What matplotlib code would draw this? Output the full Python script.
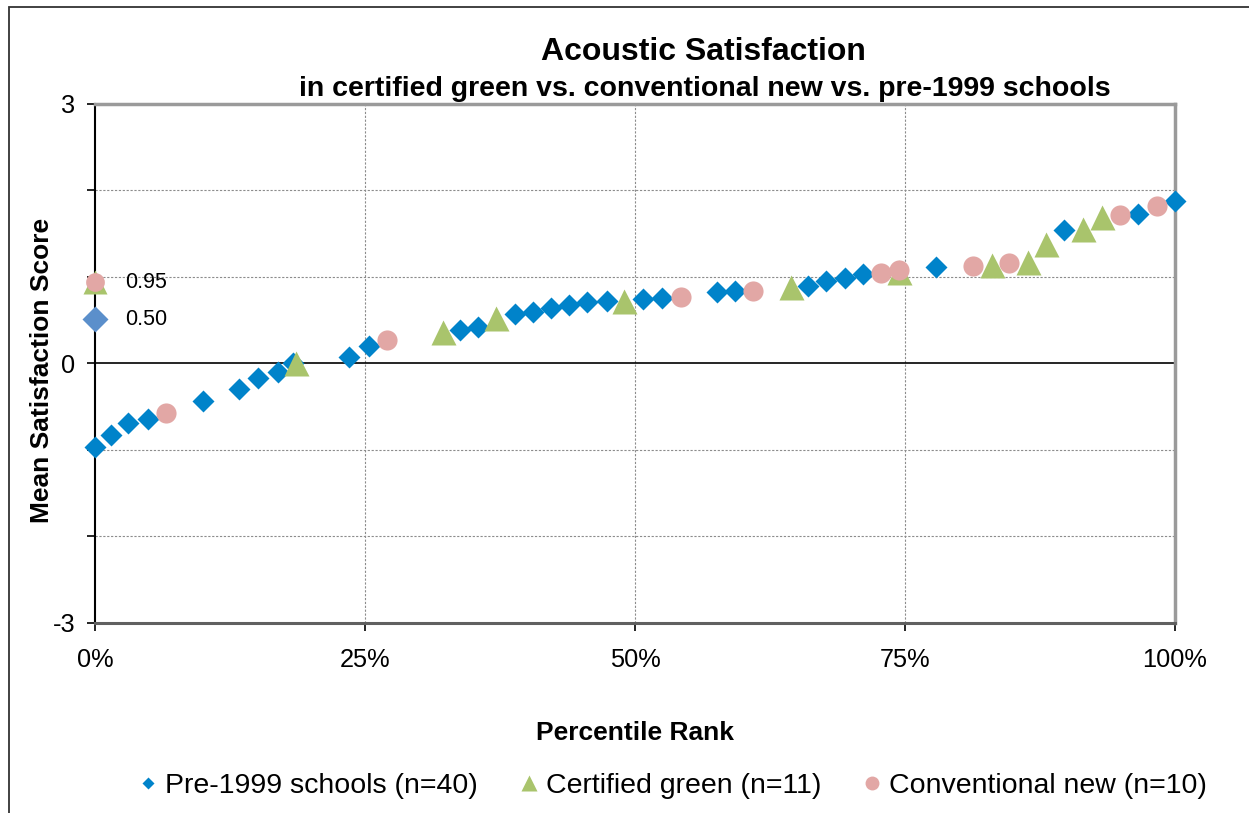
import matplotlib.pyplot as plt
from matplotlib.patches import Rectangle
from matplotlib.lines import Line2D

plt.rcParams['font.family'] = ['Liberation Sans', 'DejaVu Sans']

# percentile rank (%) and mean satisfaction score
pre_x = [0.0, 1.5, 3.1, 4.9, 10.0, 13.3, 15.1, 16.9, 18.3, 23.5, 25.4, 33.8, 35.5,
         38.9, 40.6, 42.2, 43.9, 45.6, 47.4, 50.7, 52.5, 57.6, 59.3, 66.0, 67.7,
         69.4, 71.1, 77.9, 89.7, 96.6, 100.0]
pre_y = [-0.96, -0.83, -0.69, -0.64, -0.43, -0.30, -0.17, -0.10, 0.01, 0.07, 0.20,
         0.39, 0.42, 0.57, 0.60, 0.64, 0.68, 0.71, 0.72, 0.75, 0.76, 0.83, 0.84,
         0.90, 0.95, 0.99, 1.03, 1.11, 1.54, 1.73, 1.88]

green_x = [18.6, 32.2, 37.1, 49.0, 64.4, 74.4, 83.1, 86.4, 88.1, 91.5, 93.2]
green_y = [0.0, 0.36, 0.53, 0.72, 0.88, 1.06, 1.14, 1.17, 1.38, 1.55, 1.69]

conv_x = [6.6, 27.0, 54.3, 60.9, 72.8, 74.4, 81.3, 84.6, 94.9, 98.3]
conv_y = [-0.57, 0.27, 0.77, 0.84, 1.05, 1.08, 1.13, 1.16, 1.72, 1.82]

# the two labelled markers sitting on the y axis
ref_labels = ['0.95', '0.50']
ref_y = [0.94, 0.51]

series_names = ['Pre-1999 schools (n=40)', 'Certified green (n=11)', 'Conventional new (n=10)']
c_pre, c_green, c_conv, c_ref = '#0083CA', '#A9C46C', '#E2A7A5', '#5B8FCB'

fig = plt.figure(figsize=(12.49, 8.13), dpi=100)
ax = fig.add_axes([95/1249, 190/813, 1080/1249, 519/813])

# outer chart frame
fig.patches.append(Rectangle((9/1249, -0.05), 1.1, 1.05 - 7/813,
                             transform=fig.transFigure, fill=False,
                             edgecolor='#333333', lw=1.3))

ax.plot(pre_x, pre_y, 'D', color=c_pre, ms=11, mec='none', zorder=3, clip_on=False)
ax.plot(green_x, green_y, '^', color=c_green, ms=18, mec='none', zorder=4, clip_on=False)
ax.plot(conv_x, conv_y, 'o', color=c_conv, ms=14.5, mec='none', zorder=5, clip_on=False)

# reference markers + labels
ax.plot([0], [ref_y[0]], '^', color=c_green, ms=17, mec='none', zorder=4, clip_on=False)
ax.plot([0], [ref_y[0]], 'o', color=c_conv, ms=13.5, mec='none', zorder=5, clip_on=False)
ax.plot([0], [ref_y[1]], 'D', color=c_ref, ms=13.5, mec='none', zorder=5, clip_on=False)
for lab, yv in zip(ref_labels, ref_y):
    ax.annotate(lab, xy=(0, yv), xytext=(21.5, 0), textcoords='offset points',
                va='center', ha='left', fontsize=15.5)

ax.set_xlim(0, 100)
ax.set_ylim(-3, 3)
ax.axhline(0, color='black', lw=1.2, zorder=2)

ax.set_xticks([0, 25, 50, 75, 100])
ax.set_xticklabels(['0%', '25%', '50%', '75%', '100%'])
ax.set_yticks([-3, -2, -1, 0, 1, 2, 3])
ax.set_yticklabels(['-3', '', '', '0', '', '', '3'])
ax.tick_params(axis='both', direction='out', length=6, width=1.2, labelsize=18.3, pad=12)
ax.tick_params(axis='y', pad=8)

for v in [25, 50, 75]:
    ax.axvline(v, color='#8c8c8c', lw=0.8, ls=(0, (2, 1.5)), zorder=1)
for v in [-2, -1, 1, 2]:
    ax.axhline(v, color='#8c8c8c', lw=0.8, ls=(0, (2, 1.5)), zorder=1)

ax.spines['left'].set_color('black')
ax.spines['left'].set_linewidth(1.5)
for s in ['top', 'right']:
    ax.spines[s].set_color('#9a9a9a')
    ax.spines[s].set_linewidth(2.5)
ax.spines['bottom'].set_color('#606060')
ax.spines['bottom'].set_linewidth(2.2)

ax.set_ylabel('Mean Satisfaction Score', fontsize=19, fontweight='bold', va='center')
ax.yaxis.set_label_coords(-0.049, 0.486)
ax.set_xlabel('Percentile Rank', fontsize=19, fontweight='bold', va='center')
ax.xaxis.set_label_coords(0.5, -0.212)

fig.text(0.5635, 1 - 52/813, 'Acoustic Satisfaction', ha='center', va='center',
         fontsize=23, fontweight='bold')
fig.text(0.5645, 1 - 89/813, 'in certified green vs. conventional new vs. pre-1999 schools',
         ha='center', va='center', fontsize=20.5, fontweight='bold')

handles = [Line2D([], [], ls='none', marker='D', color=c_pre, ms=6.5, mec='none'),
           Line2D([], [], ls='none', marker='^', color=c_green, ms=11, mec='none'),
           Line2D([], [], ls='none', marker='o', color=c_conv, ms=10, mec='none')]
fig.legend(handles, series_names, loc='center', bbox_to_anchor=(0.539, 1 - 786/813),
           ncol=3, frameon=False, fontsize=20.5, handlelength=0.6, handletextpad=0.3,
           columnspacing=1.5)

fig.savefig('out.png', dpi=100)
